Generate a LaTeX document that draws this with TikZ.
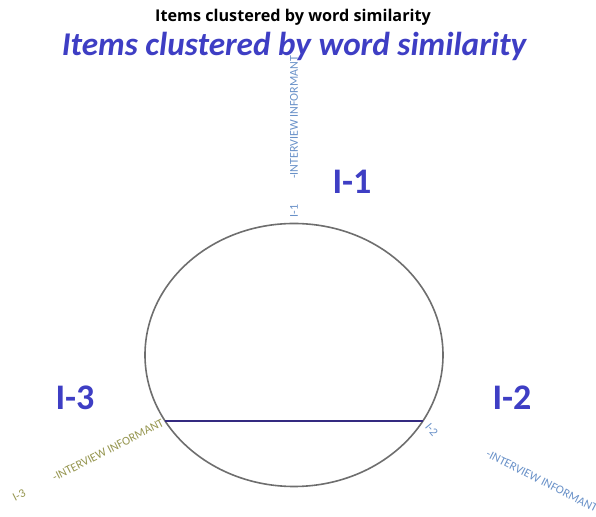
\documentclass[tikz,border=0pt]{standalone}
\usepackage{fontspec}
\setmainfont{Carlito}
\newfontfamily\headfont{Open Sans}
\definecolor{titleblue}{RGB}{62,62,196}
\definecolor{chordnavy}{RGB}{52,42,128}
\definecolor{rimgray}{RGB}{110,110,110}
\definecolor{skyblue}{RGB}{105,145,200}
\definecolor{oliveish}{RGB}{150,150,80}
\colorlet{ink}{titleblue}
\colorlet{rim}{rimgray}
\usetikzlibrary{positioning}

\begin{document}
\begin{tikzpicture}[x=0.5pt, y=-0.5pt,
    bigtag/.style={text=ink, font=\fontsize{18}{20}\selectfont\bfseries, inner sep=0pt},
    smalltag/.style={font=\fontsize{6}{7}\selectfont, inner sep=1pt},
    chord/.style={chordnavy, line width=1.1pt},
  ]
    \useasboundingbox (0,0) rectangle (596,517);
    % titles
    \node[font=\headfont\fontsize{8.1}{9}\selectfont\bfseries, inner sep=0pt] (head) at (293,17) {Items clustered by word similarity};
    \node[text=ink, font=\fontsize{16.6}{18}\selectfont\bfseries\itshape, inner sep=0pt] (title) at (294,46) {Items clustered by word similarity};
    % cluster
    \coordinate (ctr) at (294,355);
    \draw[rim, line width=0.8pt] (ctr) ellipse [x radius=149, y radius=131.5];
    \coordinate (i1) at (294,224);
    \coordinate (i2) at (423,421);
    \coordinate (i3) at (165,421);
    \draw[chord] (i3) -- (i2);
    % informant labels
    \node[smalltag, text=skyblue, rotate=90, anchor=west] (t1) at (294,220) {I-1\hspace{13pt}-INTERVIEW INFORMANT};
    \node[smalltag, text=skyblue, rotate=-50, anchor=west] (n2) at (426,423) {I-2};
    \node[smalltag, text=skyblue, rotate=-27, anchor=west] (t2) at (485,452) {-INTERVIEW INFORMANT};
    \node[smalltag, text=oliveish, rotate=27, anchor=east] (t3) at (i3) {I-3\hspace{16pt}-INTERVIEW INFORMANT};
    \node[bigtag] (g1) at (352,182) {I-1};
    \node[bigtag] (g2) at (512,398) {I-2};
    \node[bigtag] (g3) at (75,398) {I-3};
  \end{tikzpicture}
\end{document}
